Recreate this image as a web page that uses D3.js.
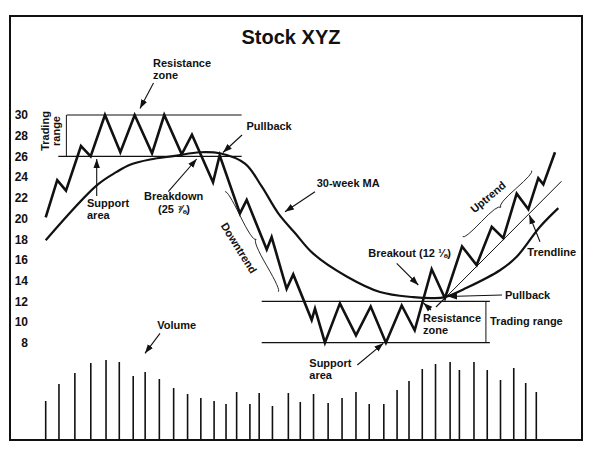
<!DOCTYPE html>
<html>
<head>
<meta charset="utf-8">
<script src="https://cdn.jsdelivr.net/npm/d3@7"></script>
<style>
  body { margin: 0; background: #fff; }
  svg text { font-family: "Liberation Sans", Arial, Helvetica, sans-serif; font-weight: bold; fill: #111; }
</style>
</head>
<body>
<svg id="chart" width="592" height="454"></svg>
<script>
// price scale labels
const yTicks = [30, 28, 26, 24, 22, 20, 18, 16, 14, 12, 10, 8];

// weekly closes (week, price)
const priceWeeks = [0, 0.87, 1.53, 2.66, 3.39, 4.47, 5.63, 6.71, 8.02, 8.94, 10.26, 11.03, 12.62, 13.12,
  14.65, 15.16, 16.67, 17.04, 18.17, 18.67, 20.06, 20.31, 21.06, 22.19, 23.4, 24.51, 25.66, 26.85,
  27.83, 29.11, 30.11, 31.4, 32.5, 33.64, 34.51, 35.52, 36.4, 37.15, 37.53, 38.41];
const priceValues = [20.1, 23.7, 22.7, 27.0, 26.0, 30, 26.4, 30, 26.3, 30, 26.2, 28.1, 23.5, 26.1,
  20.5, 21.8, 17.0, 18.2, 13.2, 14.6, 10.2, 11.3, 8, 11.8, 8.7, 11.5, 8, 11.6,
  9.2, 15.1, 12.3, 17.3, 15.5, 19.2, 18.1, 22.4, 20.9, 23.9, 23.3, 26.4];

// 30-week moving average
const maWeeks = [0, 3.85, 5.35, 6.36, 7.87, 9.75, 11.64, 13.14, 15.03, 16.29, 17.54, 18.8, 20.18,
  22.7, 25.21, 27.72, 29.2, 30.11, 31.75, 34.26, 35.52, 37.28, 38.66];
const maValues = [17.9, 23.2, 24.5, 25.2, 25.7, 26.05, 26.4, 26.3, 25.3, 23.1, 20.5, 18.6, 16.6,
  14.4, 12.9, 12.4, 12.3, 12.4, 13.3, 15.0, 16.3, 19.2, 21.0];

// volume bars
const volumeWeeks = [0, 1.0, 2.2, 3.4, 4.55, 5.55, 6.6, 7.5, 8.57, 9.65, 10.7, 11.7, 12.7, 13.6,
  14.4, 15.4, 16.1, 17.1, 18.3, 19.2, 20.2, 21.3, 22.35, 23.4, 24.4, 25.5, 26.5, 27.4,
  28.4, 29.4, 30.5, 31.2, 32.3, 33.3, 34.3, 35.3, 36.2, 37.0];
const volumeValues = [39, 56, 67, 77, 80, 78, 64, 68, 61, 52, 46, 42, 39, 36, 48, 36, 47, 34, 47, 38,
  46, 37, 42, 48, 36, 36, 50, 59, 71, 76, 78, 70, 78, 70, 60, 72, 57, 48];

// trading ranges: [support, resistance]
const upperRange = [26, 30];
const lowerRange = [8, 12];
// trendline under the uptrend
const trendWeeks = [30.11, 38.9];
const trendValues = [12.3, 23.6];

const svg = d3.select("#chart");

const x = d3.scaleLinear().domain([0, 37]).range([45.7, 536.3]);
const y = d3.scaleLinear().domain([8, 30]).range([342.7, 115]);
const v = d3.scaleLinear().domain([0, 80]).range([440, 360]);

// arrowhead
svg.append("defs").append("marker")
    .attr("id", "arrow")
    .attr("viewBox", "0 -4 9 8")
    .attr("refX", 9).attr("refY", 0)
    .attr("markerWidth", 9).attr("markerHeight", 8)
    .attr("markerUnits", "userSpaceOnUse")
    .attr("orient", "auto")
    .append("path").attr("d", "M0,-3.2L9,0L0,3.2Z").attr("fill", "#111");

// frame
svg.append("rect")
    .attr("x", 10).attr("y", 16).attr("width", 572).attr("height", 424)
    .attr("fill", "none").attr("stroke", "#111").attr("stroke-width", 2);

svg.append("text")
    .attr("x", 291).attr("y", 43.5)
    .attr("text-anchor", "middle")
    .style("font-size", "20px")
    .text("Stock XYZ");

// y axis labels only
const yAxis = svg.append("g")
    .attr("transform", "translate(28,0)")
    .call(d3.axisLeft(y).tickValues(yTicks).tickSize(0).tickPadding(0));
yAxis.select(".domain").remove();
yAxis.selectAll("text")
    .attr("font-family", null)
    .style("font-size", "12px")
    .style("font-weight", "bold")
    .attr("fill", "#111");

// trading range lines
function rangeLines(levels, x0Low, x0High, x1, bx) {
    svg.append("line")
        .attr("x1", x(x0High)).attr("x2", x(x1))
        .attr("y1", y(levels[1])).attr("y2", y(levels[1]))
        .attr("stroke", "#111").attr("stroke-width", 1.2);
    svg.append("line")
        .attr("x1", x(x0Low)).attr("x2", x(x1))
        .attr("y1", y(levels[0])).attr("y2", y(levels[0]))
        .attr("stroke", "#111").attr("stroke-width", 1.2);
    svg.append("line")
        .attr("x1", x(bx)).attr("x2", x(bx))
        .attr("y1", y(levels[1])).attr("y2", y(levels[0]))
        .attr("stroke", "#111").attr("stroke-width", 1);
}
rangeLines(upperRange, 0.95, 1.58, 14.78, 1.56);
rangeLines(lowerRange, 16.29, 16.29, 33.5, 33.2);

// trendline
svg.append("line")
    .attr("x1", x(trendWeeks[0])).attr("y1", y(trendValues[0]))
    .attr("x2", x(trendWeeks[1])).attr("y2", y(trendValues[1]))
    .attr("stroke", "#111").attr("stroke-width", 1);

// moving average
const maLine = d3.line()
    .x(d => x(d[0])).y(d => y(d[1]))
    .curve(d3.curveCatmullRom.alpha(0.5));
svg.append("path")
    .datum(d3.zip(maWeeks, maValues))
    .attr("d", maLine)
    .attr("fill", "none").attr("stroke", "#111").attr("stroke-width", 2.2);

// price
const priceLine = d3.line().x(d => x(d[0])).y(d => y(d[1]));
svg.append("path")
    .datum(d3.zip(priceWeeks, priceValues))
    .attr("d", priceLine)
    .attr("fill", "none").attr("stroke", "#111")
    .attr("stroke-width", 2.6).attr("stroke-linejoin", "miter");

// volume
svg.selectAll(".vol")
    .data(d3.zip(volumeWeeks, volumeValues))
    .enter().append("line")
    .attr("class", "vol")
    .attr("x1", d => x(d[0])).attr("x2", d => x(d[0]))
    .attr("y1", v(0)).attr("y2", d => v(d[1]))
    .attr("stroke", "#111").attr("stroke-width", 1.6);

// annotations
function label(lines, px, py, anchor) {
    const t = svg.append("text")
        .attr("x", px).attr("y", py)
        .attr("text-anchor", anchor || "start")
        .style("font-size", "11px");
    lines.forEach((s, i) => {
        t.append("tspan").attr("x", px).attr("dy", i ? 12 : 0).text(s);
    });
    return t;
}
function arrow(x1, y1, x2, y2, head) {
    const l = svg.append("line")
        .attr("x1", x1).attr("y1", y1).attr("x2", x2).attr("y2", y2)
        .attr("stroke", "#111").attr("stroke-width", 1.1);
    if (head !== false) l.attr("marker-end", "url(#arrow)");
}
function brace(x1, y1, x2, y2, w, q) {
    let dx = x1 - x2, dy = y1 - y2;
    const len = Math.sqrt(dx * dx + dy * dy);
    dx /= len; dy /= len;
    const qx1 = x1 + q * w * dy, qy1 = y1 - q * w * dx;
    const qx2 = (x1 - .25 * len * dx) + (1 - q) * w * dy, qy2 = (y1 - .25 * len * dy) - (1 - q) * w * dx;
    const tx1 = (x1 - .5 * len * dx) + w * dy, ty1 = (y1 - .5 * len * dy) - w * dx;
    const qx3 = x2 + q * w * dy, qy3 = y2 - q * w * dx;
    const qx4 = (x1 - .75 * len * dx) + (1 - q) * w * dy, qy4 = (y1 - .75 * len * dy) - (1 - q) * w * dx;
    svg.append("path")
        .attr("d", `M${x1},${y1}Q${qx1},${qy1} ${qx2},${qy2}T${tx1},${ty1}M${x2},${y2}Q${qx3},${qy3} ${qx4},${qy4}T${tx1},${ty1}`)
        .attr("fill", "none").attr("stroke", "#111").attr("stroke-width", 0.9);
}

label(["Resistance", "zone"], 153, 66.5);
arrow(153.5, 83, 140, 108.5);

svg.append("text")
    .attr("transform", "translate(49,131) rotate(-90)")
    .attr("text-anchor", "middle").style("font-size", "11px").text("Trading");
svg.append("text")
    .attr("transform", "translate(60,131) rotate(-90)")
    .attr("text-anchor", "middle").style("font-size", "11px").text("range");

label(["Pullback"], 246.5, 130);
arrow(242, 135, 223, 152.5);

label(["Support", "area"], 87, 206.5);
arrow(96.7, 196, 96.7, 159);

label(["Breakdown"], 144, 200);
label(["(25 \u215E)"], 174, 213, "middle");
arrow(168.3, 191.7, 196.7, 159);

label(["30-week MA"], 316.7, 186.5);
arrow(315, 191.7, 285, 211.7);

svg.append("text")
    .attr("transform", "translate(239,248) rotate(58)")
    .attr("text-anchor", "middle").attr("dominant-baseline", "central")
    .style("font-size", "11px").text("Downtrend");
brace(225, 191.7, 278.3, 291.7, -5, 0.6);

svg.append("text")
    .attr("transform", "translate(488,197) rotate(-40)")
    .attr("text-anchor", "middle").attr("dominant-baseline", "central")
    .style("font-size", "11px").text("Uptrend");
brace(462.7, 236.7, 531.7, 170.7, 5, 0.6);

label(["Trendline"], 527.3, 256);
arrow(540, 241.7, 529.3, 215);

label(["Breakout (12 \u215B)"], 368.3, 257.3);
arrow(396.7, 263.3, 418.3, 285);

label(["Pullback"], 505, 298.5);
arrow(502, 295, 448, 296.5);

label(["Resistance", "zone"], 423, 321.7);
arrow(431, 310, 423.5, 303);
arrow(436, 307, 445, 298, false);

label(["Trading range"], 490, 325);

label(["Support", "area"], 309.3, 366.7);
arrow(357.3, 365, 383.3, 343.3);

label(["Volume"], 157.3, 329.3);
arrow(160, 333.3, 145, 353.3);
</script>
</body>
</html>
